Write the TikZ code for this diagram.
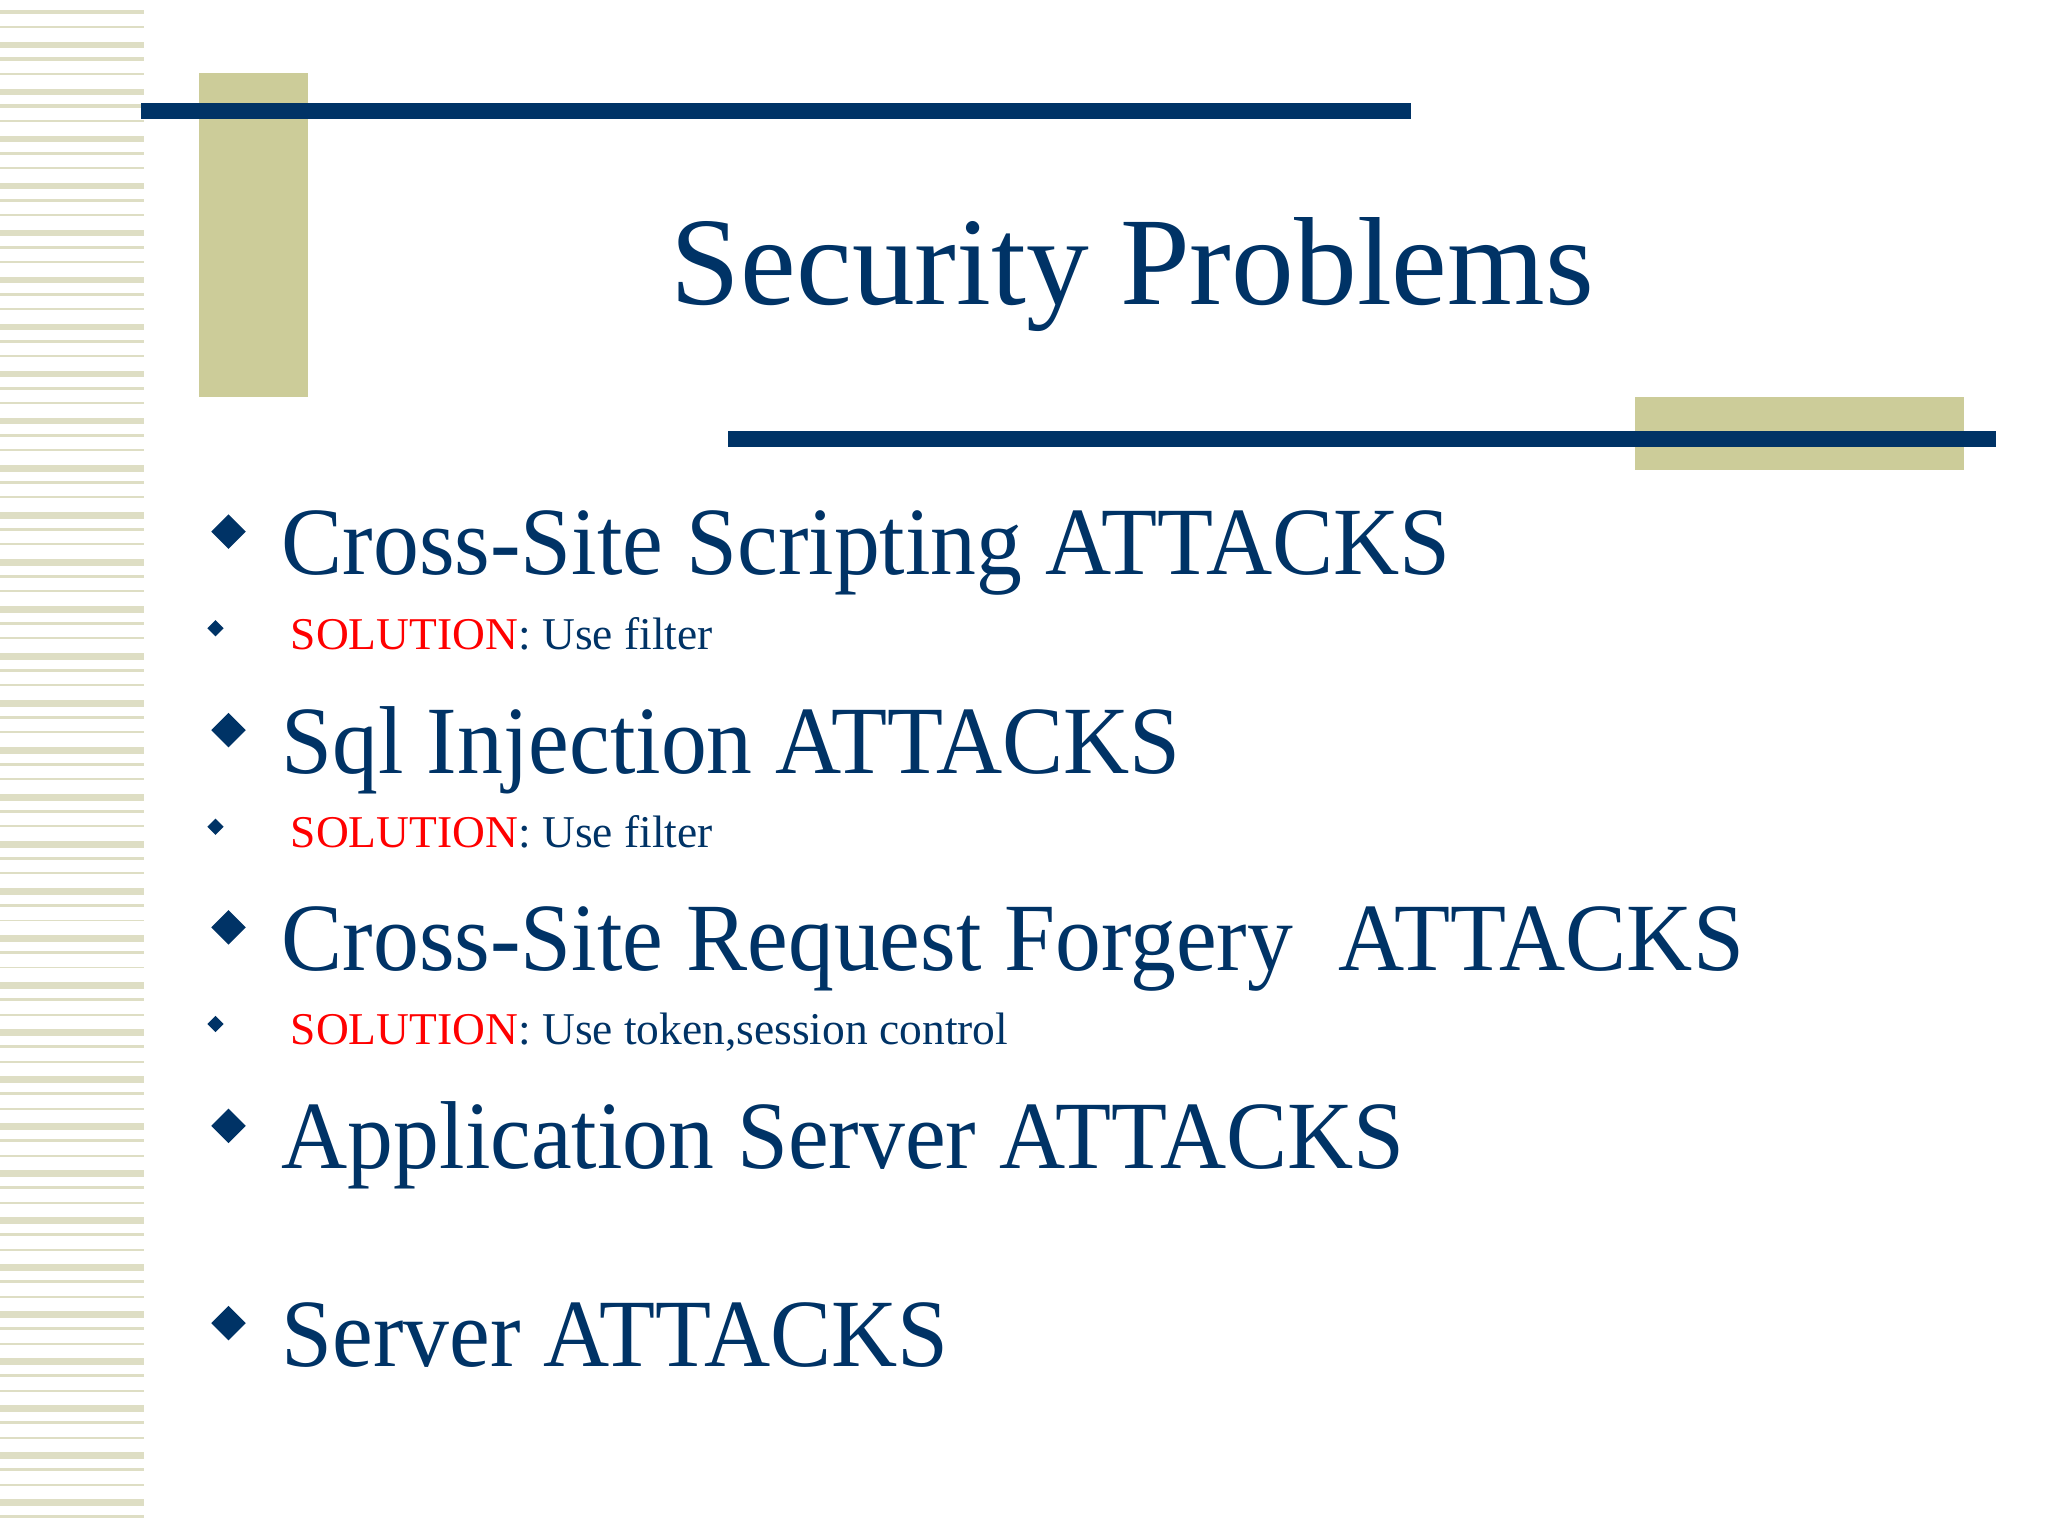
\documentclass[tikz,border=0pt]{standalone}
\usepackage{fontspec}
\setmainfont{Liberation Serif}
\newfontfamily\narrowserif[FakeStretch=0.95]{Liberation Serif}
\usetikzlibrary{shapes.geometric}
\definecolor{navy}{RGB}{0,51,102}
\definecolor{beige}{RGB}{204,204,153}
\definecolor{stripe}{RGB}{222,222,196}
\tikzset{
  main/.style={anchor=base west,inner sep=0pt,text=navy,font=\narrowserif\fontsize{21pt}{25pt}\selectfont},
  sub/.style={anchor=base west,inner sep=0pt,text=navy,font=\fontsize{9.9pt}{12pt}\selectfont},
  bigdia/.style={diamond,fill=navy,inner sep=0pt,minimum size=0.27cm},
  smalldia/.style={diamond,fill=navy,inner sep=0pt,minimum size=0.13cm}
}
\begin{document}
\begin{tikzpicture}[x=0.01cm,y=-0.01cm]
\useasboundingbox (0,0) rectangle (1568,1176);
\fill[white] (0,0) rectangle (1568,1176);
% stripes
\foreach \y [count=\i] in {8,20,32,44,56,68,80,92,104,116,128,140,152,164,176,188,200,212,224,236,248,260,272,284,296,308,320,332,344,356,368,380,392,404,416,428,440,452,464,476,488,500,512,524,536,548,560,572,584,596,608,620,632,644,656,668,680,692,704,716,728,740,752,764,776,788,800,812,824,836,848,860,872,884,896,908,920,932,944,956,968,980,992,1004,1016,1028,1040,1052,1064,1076,1088,1100,1112,1124,1136,1148,1160}{
  \pgfmathsetmacro{\t}{mod(\i,3)==0 ? 5 : (mod(\i,3)==1 ? 2.5 : 1.5)}
  \fill[stripe] (0,\y) rectangle (110,\y+\t);
}
\fill[beige] (152,56) rectangle (236,304);
\fill[beige] (1252,304) rectangle (1504,360);
\fill[navy] (108,79) rectangle (1080,91);
\fill[navy] (557,330) rectangle (1528,342);
\node[anchor=base,inner sep=0pt,text=navy,font=\fontsize{27.3pt}{32pt}\selectfont] (title) at (867,233) {Security Problems};
% items
\node[bigdia] (d1) at (175,407) {};
\node[main] (t1) at (215,440) {Cross-Site Scripting ATTACKS};
\node[smalldia] (s1) at (165,481) {};
\node[sub] (u1) at (222,497) {\textcolor{red}{SOLUTION}: Use filter};
\node[bigdia] (d2) at (175,559) {};
\node[main] (t2) at (215,592) {Sql Injection ATTACKS};
\node[smalldia] (s2) at (165,633) {};
\node[sub] (u2) at (222,649) {\textcolor{red}{SOLUTION}: Use filter};
\node[bigdia] (d3) at (175,710) {};
\node[main] (t3) at (215,743) {Cross-Site Request Forgery\ \ ATTACKS};
\node[smalldia] (s3) at (165,784) {};
\node[sub] (u3) at (222,800) {\textcolor{red}{SOLUTION}: Use token,session control};
\node[bigdia] (d4) at (175,862) {};
\node[main] (t4) at (215,895) {Application Server ATTACKS};
\node[bigdia] (d5) at (175,1013) {};
\node[main] (t5) at (215,1046) {Server ATTACKS};
\end{tikzpicture}
\end{document}
